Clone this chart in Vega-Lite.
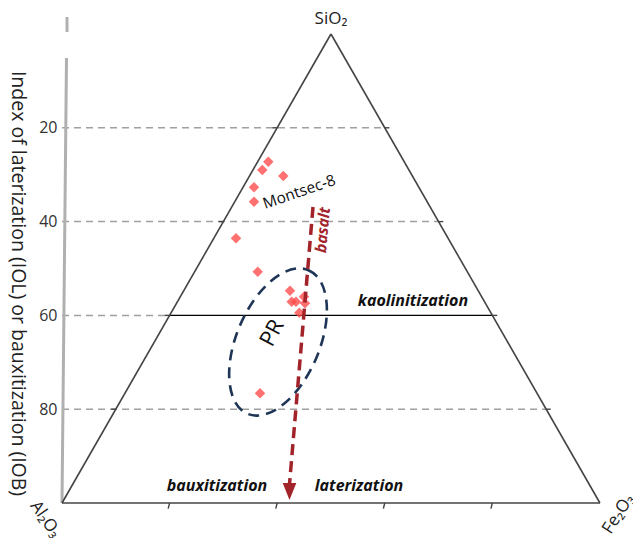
{
  "$schema": "https://vega.github.io/schema/vega-lite/v6.json",
  "width": 571,
  "height": 488,
  "autosize": {"type": "none"},
  "padding": {"left": 62, "top": 15, "right": 0, "bottom": 35},
  "background": "white",
  "config": {"view": {"stroke": null}, "font": "Open Sans"},
  "datasets": {
    "edges": [
      {"x": 0, "y": 100, "x2": 114.7, "y2": 100},
      {"x": 0, "y": 100, "x2": 57.35, "y2": 0},
      {"x": 57.35, "y": 0, "x2": 114.7, "y2": 100}
    ],
    "axisline": [
      {"x": 1.07, "y": -3.62, "x2": 1.07, "y2": -0.43},
      {"x": 0.96, "y": 5.12, "x2": 0, "y2": 100}
    ],
    "grid": [
      {"x": 0, "y": 20, "x2": 68.82, "y2": 20},
      {"x": 0, "y": 40, "x2": 80.29, "y2": 40},
      {"x": 0, "y": 60, "x2": 22.94, "y2": 60},
      {"x": 0, "y": 80, "x2": 103.23, "y2": 80}
    ],
    "kaolin": [{"x": 22.94, "y": 60, "x2": 91.76, "y2": 60}],
    "ticks": [
      {"x": 44.9, "y": 20, "x2": 45.88, "y2": 20},
      {"x": 33.4, "y": 40, "x2": 34.41, "y2": 40},
      {"x": 21.9, "y": 60, "x2": 22.94, "y2": 60},
      {"x": 10.5, "y": 80, "x2": 11.47, "y2": 80},
      {"x": 68.82, "y": 20, "x2": 69.8, "y2": 20},
      {"x": 80.29, "y": 40, "x2": 81.3, "y2": 40},
      {"x": 91.76, "y": 60, "x2": 92.8, "y2": 60},
      {"x": 103.23, "y": 80, "x2": 104.2, "y2": 80},
      {"x": 22.94, "y": 100, "x2": 22.64, "y2": 101.2},
      {"x": 45.88, "y": 100, "x2": 45.58, "y2": 101.2},
      {"x": 68.82, "y": 100, "x2": 68.52, "y2": 101.2},
      {"x": 91.76, "y": 100, "x2": 91.46, "y2": 101.2}
    ],
    "arrow": [{"x": 53.52, "y": 36.89, "x2": 48.51, "y2": 95.95}],
    "arrowhead": [{"x": 48.51, "y": 97.55}],
    "ellipse": [{"x": 46.06, "y": 65.67}],
    "samples": [
      {"x": 43.99, "y": 27.23},
      {"x": 42.71, "y": 29.0},
      {"x": 47.19, "y": 30.28},
      {"x": 40.94, "y": 32.69},
      {"x": 40.94, "y": 35.76},
      {"x": 37.1, "y": 43.56},
      {"x": 41.73, "y": 50.68},
      {"x": 48.61, "y": 54.73},
      {"x": 48.98, "y": 57.08},
      {"x": 49.89, "y": 57.08},
      {"x": 51.6, "y": 56.01},
      {"x": 51.81, "y": 57.42},
      {"x": 50.6, "y": 59.43},
      {"x": 42.22, "y": 76.61}
    ],
    "vertexTop": [{"x": 57.35, "y": -3.3, "label": "SiO₂"}],
    "vertexAl": [{"x": -4.6, "y": 99.0, "label": "Al₂O₃"}],
    "vertexFe": [{"x": 117.0, "y": 106.8, "label": "Fe₂O₃"}],
    "montsec": [{"x": 43.28, "y": 37.31, "label": "Montsec-8"}],
    "basalt": [{"x": 55.65, "y": 41.79, "label": "basalt"}],
    "pr": [{"x": 44.78, "y": 63.75, "label": "PR"}],
    "process": [
      {"x": 74.84, "y": 56.93, "label": "kaolinitization"},
      {"x": 33.05, "y": 96.38, "label": "bauxitization"},
      {"x": 63.33, "y": 96.38, "label": "laterization"}
    ]
  },
  "encoding": {
    "x": {"field": "x", "type": "quantitative", "scale": {"domain": [0, 121.75], "nice": false, "zero": false}, "axis": null},
    "y": {
      "field": "y",
      "type": "quantitative",
      "scale": {"domain": [-4.05, 100], "reverse": true, "nice": false, "zero": false},
      "axis": {
        "values": [20, 40, 60, 80],
        "domain": false,
        "ticks": false,
        "tickSize": 0,
        "grid": false,
        "labelFont": "Open Sans",
        "labelFontSize": 16,
        "labelColor": "#333333",
        "labelPadding": 5,
        "title": "Index of laterization (IOL) or bauxitization (IOB)",
        "titleFont": "Open Sans",
        "titleFontSize": 19.5,
        "titleFontWeight": "normal",
        "titleColor": "#222222",
        "titleAngle": 90,
        "titleAlign": "center",
        "titleBaseline": "middle",
        "titleX": -45,
        "titleY": 268
      }
    }
  },
  "layer": [
    {
      "data": {"name": "grid"},
      "mark": {"type": "rule", "color": "#a0a0a0", "strokeWidth": 1.5, "strokeDash": [7, 5]},
      "encoding": {"x2": {"field": "x2"}, "y2": {"field": "y2"}}
    },
    {
      "data": {"name": "axisline"},
      "mark": {"type": "rule", "color": "#b0b0b0", "strokeWidth": 3},
      "encoding": {"x2": {"field": "x2"}, "y2": {"field": "y2"}}
    },
    {
      "data": {"name": "kaolin"},
      "mark": {"type": "rule", "color": "#000000", "strokeWidth": 1.3},
      "encoding": {"x2": {"field": "x2"}, "y2": {"field": "y2"}}
    },
    {
      "data": {"name": "edges"},
      "mark": {"type": "rule", "color": "#444444", "strokeWidth": 1.6},
      "encoding": {"x2": {"field": "x2"}, "y2": {"field": "y2"}}
    },
    {
      "data": {"name": "ticks"},
      "mark": {"type": "rule", "color": "#444444", "strokeWidth": 1.4},
      "encoding": {"x2": {"field": "x2"}, "y2": {"field": "y2"}}
    },
    {
      "data": {"name": "samples"},
      "mark": {"type": "point", "shape": "diamond", "filled": true, "color": "#ff4c4c", "opacity": 0.8, "size": 110}
    },
    {
      "data": {"name": "ellipse"},
      "mark": {"type": "point", "shape": "M0,-1 A0.532,1 0 1,1 0,1 A0.532,1 0 1,1 0,-1 Z", "filled": false, "color": "#1f3556", "strokeWidth": 2.6, "strokeDash": [11, 7], "size": 24336, "angle": 23, "opacity": 1}
    },
    {
      "data": {"name": "arrow"},
      "mark": {"type": "rule", "color": "#a3232a", "strokeWidth": 3.5, "strokeDash": [11, 6]},
      "encoding": {"x2": {"field": "x2"}, "y2": {"field": "y2"}}
    },
    {
      "data": {"name": "arrowhead"},
      "mark": {"type": "point", "shape": "M-0.8,-1 L0.8,-1 L0,1 Z", "filled": true, "color": "#a3232a", "opacity": 1, "size": 289}
    },
    {
      "data": {"name": "vertexTop"},
      "mark": {"type": "text", "fontSize": 17, "color": "#222222", "align": "center", "baseline": "middle"},
      "encoding": {"text": {"field": "label"}}
    },
    {
      "data": {"name": "vertexAl"},
      "mark": {"type": "text", "fontSize": 17, "color": "#222222", "align": "left", "baseline": "top", "angle": 55},
      "encoding": {"text": {"field": "label"}}
    },
    {
      "data": {"name": "vertexFe"},
      "mark": {"type": "text", "fontSize": 17, "color": "#222222", "align": "left", "baseline": "alphabetic", "angle": -57},
      "encoding": {"text": {"field": "label"}}
    },
    {
      "data": {"name": "montsec"},
      "mark": {"type": "text", "fontSize": 15.5, "color": "#111111", "align": "left", "baseline": "alphabetic", "angle": -19},
      "encoding": {"text": {"field": "label"}}
    },
    {
      "data": {"name": "basalt"},
      "mark": {"type": "text", "fontSize": 15.5, "fontWeight": "bold", "fontStyle": "italic", "color": "#a3232a", "align": "center", "baseline": "middle", "angle": -85},
      "encoding": {"text": {"field": "label"}}
    },
    {
      "data": {"name": "pr"},
      "mark": {"type": "text", "fontSize": 22, "color": "#111111", "align": "center", "baseline": "middle", "angle": -62},
      "encoding": {"text": {"field": "label"}}
    },
    {
      "data": {"name": "process"},
      "mark": {"type": "text", "fontSize": 16, "fontWeight": "bold", "fontStyle": "italic", "color": "#111111", "align": "center", "baseline": "middle"},
      "encoding": {"text": {"field": "label"}}
    }
  ]
}
